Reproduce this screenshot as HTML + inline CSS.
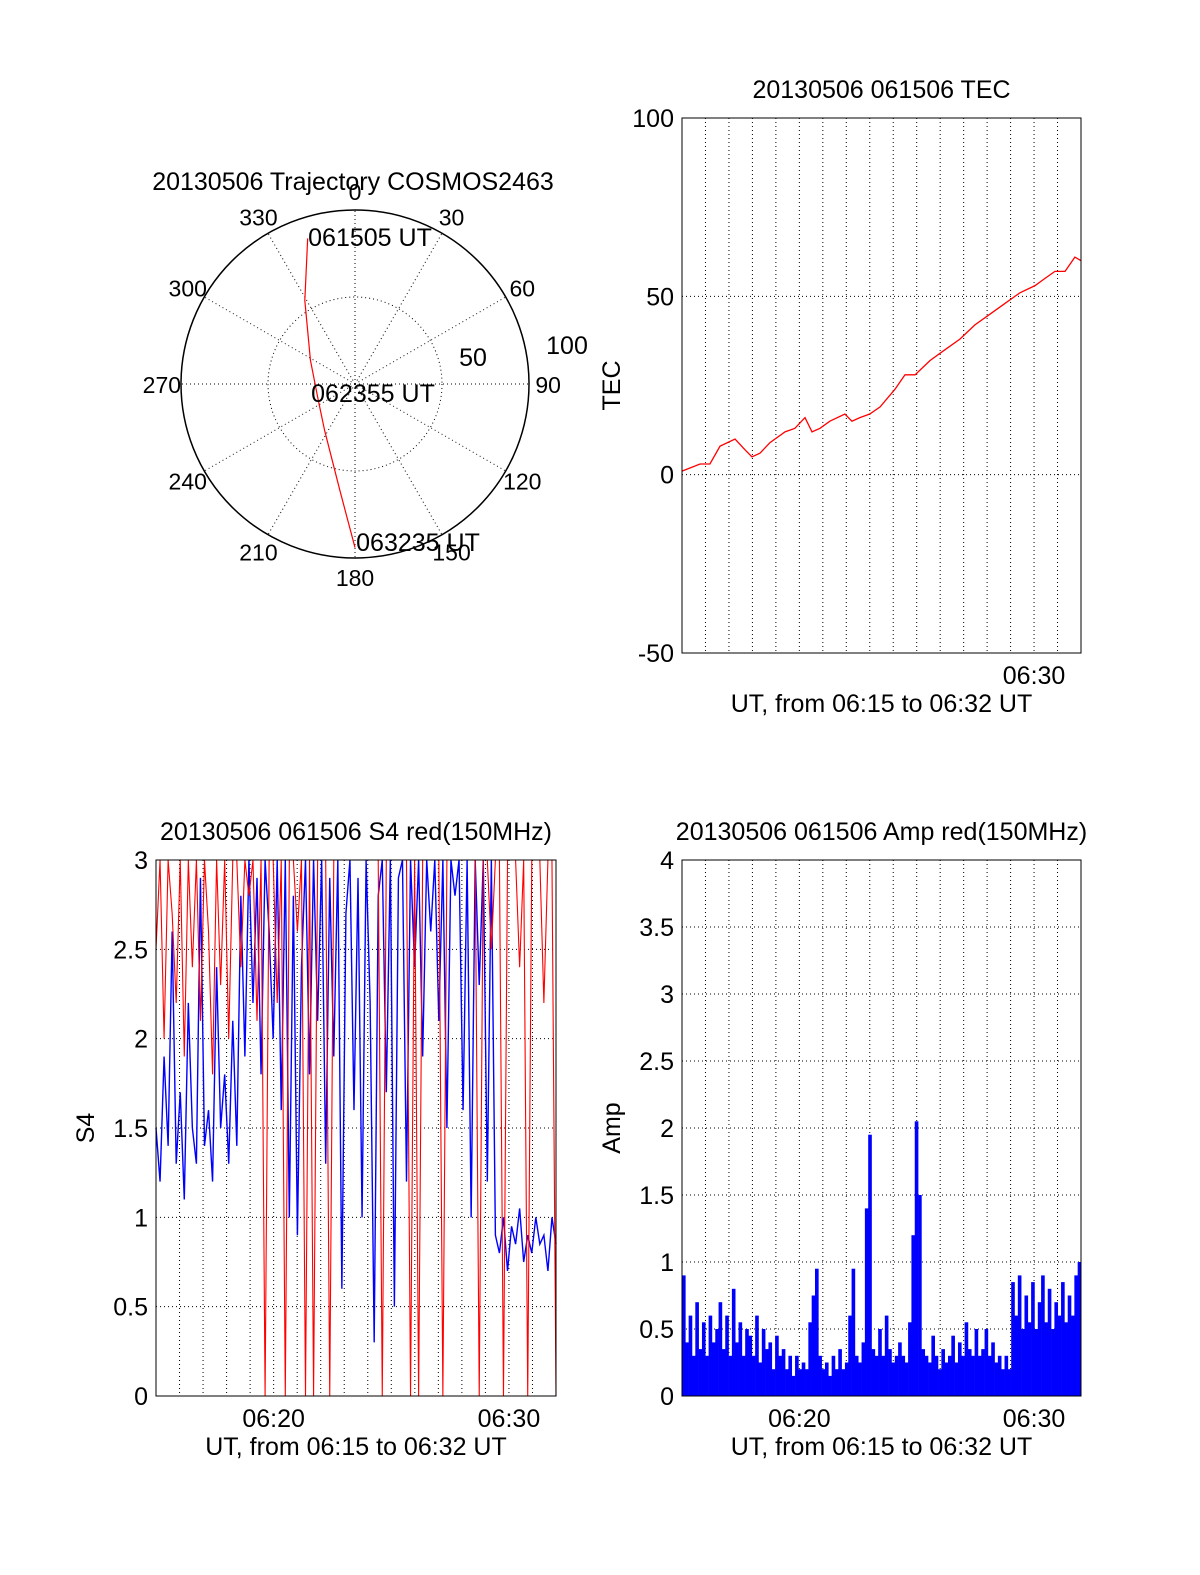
<!DOCTYPE html>
<html><head><meta charset="utf-8"><style>
body{margin:0;background:#fff}
svg{display:block;font-family:"Liberation Sans",sans-serif}
</style></head><body>
<svg id="c" width="1200" height="1575" viewBox="0 0 1200 1575"></svg>
<script>
// ---- data ----
const tecTimes=[0,0.77,1.19,1.62,2.26,2.68,2.98,3.32,3.75,4.39,4.81,5.24,5.54,5.88,6.3,6.94,7.24,7.58,8.0,8.44,9.08,9.5,9.93,10.57,11.2,11.84,12.48,13.12,13.76,14.4,15.04,15.46,15.89,16.32,16.74,17];
const tecValues=[1,3,3,8,10,7,5,6,9,12,13,16,12,13,15,17,15,16,17,19,24,28,28,32,35,38,42,45,48,51,53,55,57,57,61,60];
const tecTicks=[-50,0,50,100];
const s4Blue=[1.5,1.2,1.9,1.4,2.6,1.3,1.7,1.1,2.2,1.5,1.3,2.9,1.4,1.6,1.2,2.4,1.5,1.8,1.3,2.1,
1.4,2.8,1.9,3.0,2.2,2.9,1.8,3.0,2.6,2.0,3.0,1.6,3.0,1.0,2.8,0.9,2.4,3.0,1.8,3.0,
2.1,3.0,1.3,2.9,1.9,3.0,0.6,2.7,3.0,1.6,2.9,1.0,3.0,2.2,0.3,2.8,3.0,1.7,3.0,0.5,
2.9,3.0,1.2,3.0,2.4,3.0,1.9,3.0,2.6,3.0,2.1,3.0,1.5,3.0,2.8,3.0,1.6,3.0,1.0,3.0,
2.3,3.0,1.2,3.0,0.9,0.8,1.0,0.7,0.95,0.85,1.05,0.75,0.9,0.8,1.0,0.85,0.9,0.7,1.0,0.85];
const s4Red=[2.5,3,2.0,3,2.7,2.2,3,1.9,3,2.4,3,2.1,3,2.6,1.8,3,2.3,3,2.0,3,
3,2.4,3,2.8,3,2.1,3,0,3,3,2.2,3,0,3,3,2.6,3,0,3,0,
3,3,3,0,3,3,3,3,3,3,3,3,3,3,3,3,0,3,3,3,
3,3,3,0,3,0,3,3,3,3,3,0,3,3,3,3,3,3,3,3,
0,3,3,2.5,3,3,0,3,3,3,2.4,3,0,3,3,3,2.2,3,3,0];
const s4Ticks=[0,0.5,1,1.5,2,2.5,3];
const ampBlue=[0.9,0.4,0.6,0.3,0.7,0.35,0.55,0.3,0.6,0.4,0.5,0.7,0.35,0.6,0.3,0.8,0.4,0.55,0.3,0.5,
0.45,0.3,0.6,0.25,0.5,0.35,0.4,0.2,0.45,0.3,0.35,0.2,0.3,0.15,0.3,0.2,0.25,0.2,0.55,0.75,
0.95,0.3,0.2,0.25,0.15,0.3,0.2,0.35,0.2,0.25,0.6,0.95,0.3,0.25,0.4,1.4,1.95,0.35,0.3,0.5,
0.3,0.6,0.35,0.25,0.3,0.4,0.3,0.25,0.55,1.2,2.05,1.5,0.35,0.3,0.25,0.45,0.3,0.2,0.35,0.25,
0.3,0.45,0.25,0.4,0.3,0.55,0.35,0.3,0.5,0.3,0.35,0.5,0.3,0.4,0.25,0.3,0.2,0.3,0.2,0.85,
0.6,0.9,0.5,0.75,0.55,0.85,0.5,0.7,0.9,0.55,0.8,0.5,0.7,0.6,0.85,0.55,0.75,0.6,0.9,1.0];
const ampTicks=[0,0.5,1,1.5,2,2.5,3,3.5,4];
const trajAz=[342,329,298,247,213,188,180];
const trajR=[88,56,29,23,32,62,94];
const polarAngles=[0,30,60,90,120,150,180,210,240,270,300,330];

const svg=document.getElementById('c');
const NS='http://www.w3.org/2000/svg';
const FS=25;
function el(tag,attrs,parent){const e=document.createElementNS(NS,tag);for(const k in attrs)e.setAttribute(k,attrs[k]);(parent||svg).appendChild(e);return e;}
function txt(x,y,s,anchor,size,parent,rot){const t=el('text',{x:x,y:y,'font-size':size||FS,'text-anchor':anchor||'middle',fill:'#000'},parent);if(rot)t.setAttribute('transform','rotate(-90 '+x+' '+y+')');t.textContent=s;return t;}

function panel(name,x0,y0,w,h,ymin,ymax,yticks,title,ylabel,showX){
  const g=el('g',{});
  
  
  const xs=t=>x0+t/17*w, ys=v=>y0+h-(v-ymin)/(ymax-ymin)*h;
  for(let m=1;m<17;m++){const l=el('line',{x1:xs(m),x2:xs(m),y1:y0,y2:y0+h,stroke:'#000','stroke-width':1,'stroke-dasharray':'1,3'},g);
    }
  yticks.forEach(v=>{
    if(v!==ymin&&v!==ymax){const l=el('line',{x1:x0,x2:x0+w,y1:ys(v),y2:ys(v),stroke:'#000','stroke-width':1,'stroke-dasharray':'1,3'},g);
      }
    const t=txt(x0-8,ys(v)+9,String(v),'end',FS,g);
    
  });
  const tt=txt(x0+w/2,y0-20,title,'middle',FS,g);
  
  const yl=txt(x0-62,y0+h/2,ylabel,'middle',FS,g,true);
  
  [[5,'06:20'],[15,'06:30']].forEach(([m,s])=>{if(showX||m===15){const t=txt(xs(m),y0+h+31,s,'middle',FS,g);
    }});
  const xl=txt(x0+w/2,y0+h+59,'UT, from 06:15 to 06:32 UT','middle',FS,g);
  
  return {g,xs,ys,frame:()=>{const f=el('rect',{x:x0,y:y0,width:w,height:h,fill:'none',stroke:'#000','stroke-width':1},g);
    }};
}

// TEC
const p1=panel('tec-panel',682,118,399,535,-50,100,tecTicks,'20130506 061506 TEC','TEC',false);
const tl=el('polyline',{points:tecTimes.map((t,i)=>p1.xs(t)+','+p1.ys(tecValues[i])).join(' '),fill:'none',stroke:'#f00','stroke-width':1.3},p1.g);

p1.frame();

// S4
const p2=panel('s4-panel',156,860,400,536,0,3,s4Ticks,'20130506 061506 S4 red(150MHz)','S4',true);
const blueL=el('polyline',{points:s4Blue.map((v,i)=>p2.xs(i*17/(s4Blue.length-1))+','+p2.ys(v)).join(' '),fill:'none',stroke:'#00f','stroke-width':1.4},p2.g);

const redL=el('polyline',{points:s4Red.map((v,i)=>p2.xs(i*17/(s4Red.length-1))+','+p2.ys(v)).join(' '),fill:'none',stroke:'#f00','stroke-width':1.1},p2.g);

p2.frame();

// Amp
const p3=panel('amp-panel',682,860,399,536,0,4,ampTicks,'20130506 061506 Amp red(150MHz)','Amp',true);
const step=17/ampBlue.length;
ampBlue.forEach((v,i)=>{
  const x1=p3.xs(i*step),x2=p3.xs((i+1)*step);
  const r=el('rect',{x:x1,y:p3.ys(v),width:x2-x1+0.3,height:p3.ys(0)-p3.ys(v),fill:'#00f'},p3.g);
  
  
});
p3.frame();

// Polar
const cx=355,cy=384,R=174;
const pg=el('g',{});


const pt=(az,r)=>[cx+r/100*R*Math.sin(az*Math.PI/180),cy-r/100*R*Math.cos(az*Math.PI/180)];
polarAngles.forEach(a=>{
  const [x,y]=pt(a,100);
  const l=el('line',{x1:cx,y1:cy,x2:x,y2:y,stroke:'#000','stroke-dasharray':'1,3'},pg);
  
  const [lx,ly]=pt(a,111);
  const t=txt(lx,ly+9,String(a),'middle',23,pg);
  
});
const ic=el('circle',{cx:cx,cy:cy,r:R/2,fill:'none',stroke:'#000','stroke-dasharray':'1,3'},pg);

const oc=el('circle',{cx:cx,cy:cy,r:R,fill:'none',stroke:'#000','stroke-width':1.5},pg);

const tr=el('polyline',{points:trajAz.map((a,i)=>pt(a,trajR[i]).join(',')).join(' '),fill:'none',stroke:'#f00','stroke-width':1.2},pg);

[[353,190,'20130506 Trajectory COSMOS2463','middle','polar-title'],[370,246,'061505 UT','middle','start-time-label'],
 [373,402,'062355 UT','middle','mid-time-label'],[418,551,'063235 UT','middle','end-time-label'],
 [473,366,'50','middle','ring-label-50'],[567,354,'100','middle','ring-label-100']].forEach(([x,y,s,a,n])=>{
  const t=txt(x,y,s,a,FS,pg);
  
});
</script>
</body></html>
